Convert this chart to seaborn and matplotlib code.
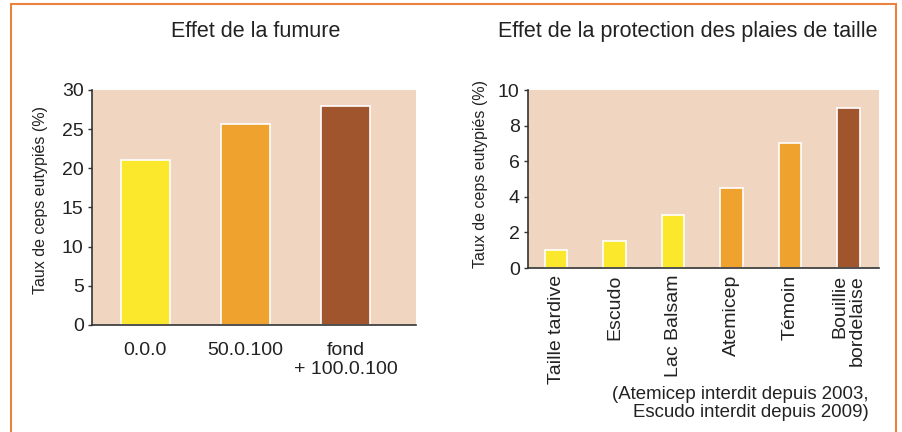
import matplotlib
matplotlib.use("Agg")
import matplotlib.pyplot as plt
import pandas as pd
import seaborn as sns
from matplotlib.patches import Rectangle

# data
fumure_labels = ["0.0.0", "50.0.100", "fond\n+ 100.0.100"]
fumure_values = [21.0, 25.6, 28.0]
fumure_colors = ["#FBE72B", "#EFA32E", "#A0552C"]

protect_labels = ["Taille tardive", "Escudo", "Lac Balsam", "Atemicep", "Témoin", "Bouillie\nbordelaise"]
protect_values = [1.0, 1.5, 3.0, 4.5, 7.0, 9.0]
protect_colors = ["#FBE72B", "#FBE72B", "#FBE72B", "#EFA32E", "#EFA32E", "#A0552C"]

ylabel = "Taux de ceps eutypiés (%)"
note = "(Atemicep interdit depuis 2003,\nEscudo interdit depuis 2009)"

sns.set_theme(style="ticks")
plt.rcParams["font.family"] = ["Liberation Sans", "DejaVu Sans"]

BG = "#F0D5C0"
SPINE = "#333333"
TXT = "#222222"

fig = plt.figure(figsize=(9.02, 4.32), dpi=100)
fig.patch.set_facecolor("white")


def style_axis(ax, ymax, yticks, labelpad):
    ax.set_facecolor(BG)
    ax.set_ylim(0, ymax)
    ax.set_yticks(yticks)
    sns.despine(ax=ax)
    for s in ("left", "bottom"):
        ax.spines[s].set_color(SPINE)
        ax.spines[s].set_linewidth(1.2)
    ax.tick_params(axis="y", length=3, width=1, color=SPINE, labelsize=14, pad=3, labelcolor=TXT)
    ax.tick_params(axis="x", length=0, labelsize=14, labelcolor=TXT)
    ax.set_xlabel("")
    ax.set_ylabel(ylabel, fontsize=11.5, color=TXT, labelpad=labelpad)
    ax.yaxis.label.set_y(0.53)


# left panel
df1 = pd.DataFrame({"cat": fumure_labels, "val": fumure_values})
ax1 = fig.add_axes([0.102, 0.2477, 0.359, 0.544])
sns.barplot(data=df1, x="cat", y="val", hue="cat", palette=fumure_colors, legend=False,
            saturation=1, width=0.49, edgecolor="white", linewidth=1.2, ax=ax1)
ax1.set_xlim(-0.53, 2.70)
style_axis(ax1, 30, range(0, 31, 5), 10)
ax1.tick_params(axis="x", pad=12)
for t in ax1.get_xticklabels():
    t.set_linespacing(1.15)
fig.text(0.283, 0.926, "Effet de la fumure", ha="center", va="center", fontsize=15.5, color=TXT)

# right panel
df2 = pd.DataFrame({"cat": protect_labels, "val": protect_values})
ax2 = fig.add_axes([0.5854, 0.3796, 0.389, 0.412])
sns.barplot(data=df2, x="cat", y="val", hue="cat", palette=protect_colors, legend=False,
            saturation=1, width=0.38, edgecolor="white", linewidth=1.2, ax=ax2)
ax2.set_xlim(-0.48, 5.52)
style_axis(ax2, 10, range(0, 11, 2), 7)
ax2.tick_params(axis="x", pad=5)
ax2.set_xticks(range(len(protect_labels)))
ax2.set_xticklabels(protect_labels, rotation=90, ha="center", va="top", linespacing=1.0)
for t in ax2.get_xticklabels():
    t.set_multialignment("right")
fig.text(0.763, 0.926, "Effet de la protection des plaies de taille", ha="center", va="center",
         fontsize=15.5, color=TXT)
fig.text(0.963, 0.025, note, ha="right", va="bottom", fontsize=13.4, color=TXT,
         multialignment="right", linespacing=1.1)

# orange frame around the figure (open at the bottom)
fig.patches.append(Rectangle((0.0122, -0.05), 0.9812, 1.041, transform=fig.transFigure,
                             fill=False, edgecolor="#E8843F", linewidth=1.5, clip_on=False))

fig.savefig("out.png", dpi=100)
